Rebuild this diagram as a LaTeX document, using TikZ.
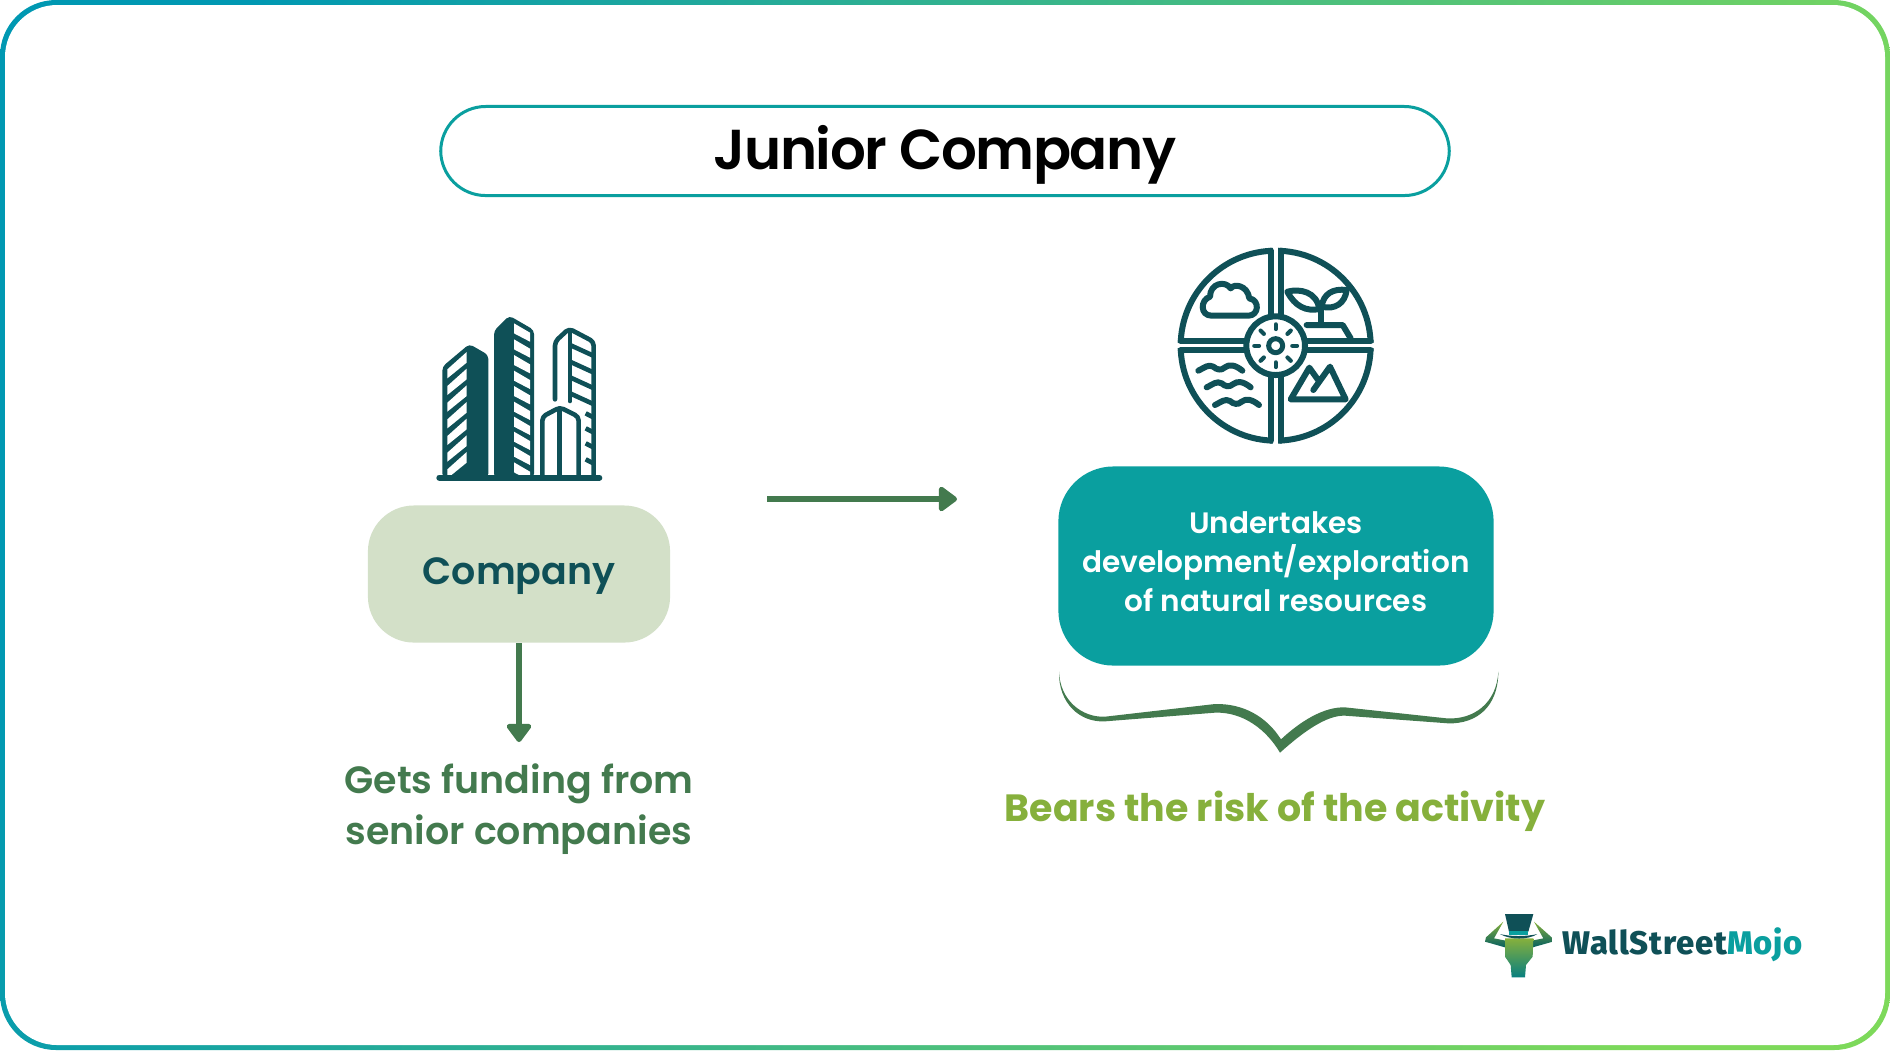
\documentclass[tikz,border=0pt]{standalone}
\usepackage{fontspec}
\setmainfont{Poppins}[BoldFont={Poppins SemiBold}]
\newfontfamily\heavyfont{Poppins}
\newfontfamily\logofont{Fira Sans}[BoldFont={Fira Sans ExtraBold},LetterSpace=2.5]
\definecolor{wsmdark}{RGB}{15,80,87}
\definecolor{wsmteal}{RGB}{10,159,159}
\definecolor{wsmgreen}{RGB}{67,122,78}
\definecolor{wsmlime}{RGB}{134,176,60}
\definecolor{wsmpale}{RGB}{211,224,200}
\definecolor{wsmframeL}{RGB}{0,152,178}
\definecolor{wsmframeR}{RGB}{125,217,90}
\usetikzlibrary{arrows.meta,positioning,calc}
\tikzset{
  iconline/.style={draw=wsmdark, line width=0.6mm, line cap=round, line join=round},
  flowarrow/.style={-{Triangle[length=2.0mm,width=2.8mm,round]}, line width=0.58mm, wsmgreen},
  boxlabel/.style={font=\bfseries, align=center},
}
\begin{document}
\begin{tikzpicture}[x=0.01cm,y=-0.01cm]
  \useasboundingbox (0,0) rectangle (1890,1050);

  %--- Frame ---
  \shade[left color=wsmframeL, right color=wsmframeR, shading angle=70, rounded corners=5.6mm] (0,0) rectangle (1890,1050);
  \fill[white, rounded corners=5.2mm] (5,5) rectangle (1885,1045);

  %--- Title ---
  \node[draw=wsmteal, line width=0.3mm, rounded corners=4.5mm, minimum width=10.08cm, minimum height=0.89cm, boxlabel, text depth=1.8pt, font=\fontsize{16}{18}\bfseries\addfontfeature{LetterSpace=-2.5}\selectfont] (title) at (945,151) {Junior Company};

  %--- Company side ---
  \node[fill=wsmpale, rounded corners=4.6mm, minimum width=3.02cm, minimum height=1.37cm, boxlabel, text=wsmdark, text depth=1.6pt, font=\fontsize{10.8}{13}\bfseries\selectfont] (company) at (519,574) {Company};
  \node[boxlabel, text=wsmgreen, font=\fontsize{10.8}{14.4}\bfseries\selectfont] (funding) at (519,809) {Gets funding from\\senior companies};
  \coordinate (fundingtip) at (519,742);
  \draw[flowarrow] (company.south) -- (fundingtip);

  %--- Resource side ---
  \node[fill=wsmteal, rounded corners=5.5mm, minimum width=4.35cm, minimum height=1.99cm, boxlabel, text=white, font=\fontsize{8.4}{11.1}\bfseries\selectfont] (resources) at (1276,566) {Undertakes\\development/exploration\\of natural resources\vspace{2.6pt}};
  \node[boxlabel, text=wsmlime, font=\heavyfont\bfseries\fontsize{10.8}{14}\selectfont] (risk) at (1275,811) {Bears the risk of the activity};

  \coordinate (arrowstart) at (767,499);
  \coordinate (arrowend) at (957,499);
  \draw[flowarrow] (arrowstart) -- (arrowend);

  % Brace under the teal box
  \begin{scope}[shift={(1040,650)},scale=1/3]
    \fill[wsmgreen] (57,65) .. controls (60,150) and (125,203) .. (195,200) -- (525,162) .. controls (610,160) and (680,200) .. (723,268) .. controls (780,215) and (850,170) .. (915,172) -- (1220,205) .. controls (1300,210) and (1370,160) .. (1375,65) .. controls (1375,170) and (1310,222) .. (1225,220) -- (915,197) .. controls (860,195) and (790,245) .. (720,308) .. controls (680,240) and (610,185) .. (525,188) -- (195,214) .. controls (120,218) and (55,160) .. (57,65) -- cycle;
  \end{scope}

  %--- Buildings icon ---
  \begin{scope}[shift={(420,300)},scale=1/3]
    % left tower
    \fill[wsmdark, rounded corners=0.4mm] (67,533) -- (67,200) -- (148,132) -- (205,165) -- (205,533) -- cycle;
    \begin{scope}
      \clip (82,150) rectangle (140,526);
      \foreach \yy in {208,258,308,358,408,458,508}
        \fill[white] (82,\yy) -- (140,\yy-52) -- (140,\yy-20) -- (82,\yy+27) -- cycle;
    \end{scope}
    % middle tower
    \fill[wsmdark, rounded corners=0.4mm] (222,533) -- (222,92) -- (268,47) -- (342,90) -- (342,533) -- cycle;
    \begin{scope}
      \clip (282,60) rectangle (330,526);
      \foreach \yy in {70,118,165,212,258,305,350,395,440,487}
        \fill[white] (282,\yy) -- (330,\yy+28) -- (330,\yy+55) -- (282,\yy+30) -- cycle;
    \end{scope}
    % right tower
    \draw[iconline, rounded corners=0.4mm, line width=0.46mm] (405,298) -- (405,125) -- (447,86) -- (521,125) -- (521,533);
    \draw[iconline, line width=0.46mm] (450,92) -- (450,303);
    \foreach \yy in {135,185,232,280}
      \draw[iconline, line cap=butt, line width=0.46mm] (450,\yy) -- (520,\yy+32);
    \foreach \yy in {340,385,430,478}
      \draw[iconline, line cap=butt, line width=0.46mm] (497,\yy) -- (520,\yy+12);
    % front block
    \draw[iconline, rounded corners=0.4mm, line width=0.46mm] (367,533) -- (367,350) -- (420,322) -- (476,350) -- (476,533);
    \draw[iconline, line width=0.46mm] (418,325) -- (418,533);
    % ground
    \draw[iconline] (58,533) -- (538,533);
  \end{scope}

  %--- Natural resources icon ---
  \begin{scope}[shift={(1160,235)},scale=1/3]
    \draw[iconline] (347,332) circle (285);
    \fill[white] (340,30) rectangle (354,640);
    \fill[white] (40,325) rectangle (655,339);
    \draw[iconline] (332,47) -- (332,250);
    \draw[iconline] (362,47) -- (362,250);
    \draw[iconline] (332,415) -- (332,617);
    \draw[iconline] (362,415) -- (362,617);
    \draw[iconline] (62,318) -- (265,318);
    \draw[iconline] (62,346) -- (265,346);
    \draw[iconline] (430,318) -- (632,318);
    \draw[iconline] (430,346) -- (632,346);
    \draw[iconline, fill=white] (347,332) circle (88);
    \draw[iconline, line width=0.5mm] (347,332) circle (21);
    \begin{scope}[shift={(347,332)}]
      \foreach \ang in {0,45,...,315}
        \draw[iconline, line width=0.42mm] (\ang:50) -- (\ang:64);
    \end{scope}
    % cloud
    \draw[iconline] (155,242) -- (265,242) .. controls (297,242) and (300,195) .. (268,190) .. controls (262,150) and (222,145) .. (212,160) .. controls (195,135) and (150,145) .. (150,185) .. controls (120,195) and (120,242) .. (155,242) -- cycle;
    % plant
    \draw[iconline] (483,268) -- (483,215);
    \draw[iconline] (382,170) .. controls (420,160) and (470,170) .. (478,222) .. controls (440,230) and (405,215) .. (382,170) -- cycle;
    \draw[iconline] (560,165) .. controls (520,160) and (490,175) .. (485,215) .. controls (525,225) and (555,205) .. (560,165) -- cycle;
    \draw[iconline] (440,270) -- (548,270) -- (572,310);
    % waves
    \foreach \xx/\yy in {115/392,140/442,165/495}
      \draw[iconline, shift={(\xx,\yy)}] (0,15) .. controls (20,5) and (30,-5) .. (45,3) .. controls (55,12) and (68,16) .. (80,5) .. controls (92,-5) and (110,-3) .. (132,15);
    % mountains
    \draw[iconline] (478,440) -- (448,398) -- (392,493) -- (557,493) -- (510,395) -- (460,465);
  \end{scope}

  %--- Logo ---
  \begin{scope}[shift={(1470,900)},scale=1/3]
    \shade[top color=wsmlime, bottom color=wsmteal!60!black] (100,65) -- (48,112) -- (45,125) -- (105,142) -- (108,122) -- (72,115) -- cycle;
    \shade[top color=wsmlime, bottom color=wsmteal!60!black] (192,65) -- (245,112) -- (248,125) -- (188,142) -- (185,122) -- (220,115) -- cycle;
    \shade[top color=wsmlime, middle color=wsmlime!85!black, bottom color=wsmteal!80!black] (105,115) -- (190,115) -- (188,170) -- (168,195) -- (165,232) -- (125,232) -- (122,195) -- (105,170) -- cycle;
    \fill[wsmdark] (105,42) -- (190,42) -- (175,95) -- (117,95) -- cycle;
    \fill[wsmteal] (117,92) rectangle (175,106);
    \fill[wsmdark] (90,102) .. controls (120,110) and (170,110) .. (202,102) .. controls (175,120) and (120,120) .. (90,102) -- cycle;
    \node[font=\logofont\bfseries\fontsize{9.3}{11}\selectfont, text=wsmdark, anchor=west, inner sep=0pt] (wordmark) at (275,134) {WallStreet\textcolor{wsmteal}{Mojo}};
  \end{scope}
\end{tikzpicture}
\end{document}
